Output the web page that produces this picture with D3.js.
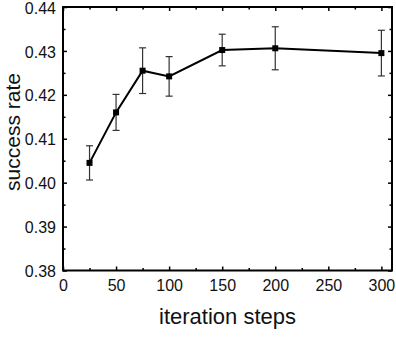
<!DOCTYPE html>
<html>
<head>
<meta charset="utf-8">
<script src="https://cdn.jsdelivr.net/npm/d3@7"></script>
<style>
  body { margin: 0; background: #fff; }
  text { font-family: "Liberation Sans", Arial, sans-serif; }
</style>
</head>
<body>
<div id="chart"></div>
<script>
// data
var steps = [25, 50, 75, 100, 150, 200, 300];
var rate = [0.4045, 0.4160, 0.4255, 0.4242, 0.4302, 0.4306, 0.4295];
var err = [0.0039, 0.0041, 0.0052, 0.0045, 0.0036, 0.0049, 0.0052];
var xTicks = [0, 50, 100, 150, 200, 250, 300];
var yTicks = [0.38, 0.39, 0.40, 0.41, 0.42, 0.43, 0.44];

function init() {

    var w = 396;
    var h = 362;
    var margin = {left: 63, right: 4, top: 7, bottom: 91.5};

    var x = d3.scaleLinear()
              .domain([0, 310])
              .range([margin.left, w - margin.right]);

    var y = d3.scaleLinear()
              .domain([0.38, 0.44])
              .range([h - margin.bottom, margin.top]);

    var svg = d3.select("#chart")
                .append("svg")
                .attr("width", w)
                .attr("height", h);

    var minorX = d3.range(25, 310, 50);
    var minorY = d3.range(0.385, 0.44, 0.01);

    // minor ticks, all four sides
    function minor(axis, vals, pos) {
        svg.append("g")
           .attr("transform", pos)
           .call(axis.tickValues(vals).tickSize(-2.5).tickFormat(""))
           .call(function(g) { g.select(".domain").remove(); })
           .selectAll("line").attr("stroke-width", 1.5);
    }
    minor(d3.axisBottom(x), minorX, "translate(0," + y(0.38) + ")");
    minor(d3.axisTop(x), minorX, "translate(0," + y(0.44) + ")");
    minor(d3.axisLeft(y), minorY, "translate(" + x(0) + ",0)");
    minor(d3.axisRight(y), minorY, "translate(" + x(310) + ",0)");

    // major ticks + labels
    var xAxis = svg.append("g")
                   .attr("transform", "translate(0," + y(0.38) + ")")
                   .call(d3.axisBottom(x).tickValues(xTicks).tickSize(-4).tickPadding(9));
    var yAxis = svg.append("g")
                   .attr("transform", "translate(" + x(0) + ",0)")
                   .call(d3.axisLeft(y).tickValues(yTicks).tickSize(-4).tickPadding(7)
                           .tickFormat(d3.format(".2f")));
    svg.append("g")
       .attr("transform", "translate(0," + y(0.44) + ")")
       .call(d3.axisTop(x).tickValues(xTicks).tickSize(-4).tickFormat(""));
    svg.append("g")
       .attr("transform", "translate(" + x(310) + ",0)")
       .call(d3.axisRight(y).tickValues(yTicks).tickSize(-4).tickFormat(""));

    svg.selectAll(".domain").remove();
    svg.selectAll(".tick line").attr("stroke", "#000").attr("stroke-width", 1.5);
    svg.selectAll(".tick text")
       .attr("fill", "#111")
       .style("font-size", "16px")
       .style("font-family", "'Liberation Sans', Arial, sans-serif");
    yAxis.selectAll(".tick text").attr("dy", "0.38em");

    // frame
    svg.append("rect")
       .attr("x", x(0))
       .attr("y", y(0.44))
       .attr("width", x(310) - x(0))
       .attr("height", y(0.38) - y(0.44))
       .attr("fill", "none")
       .attr("stroke", "#000")
       .attr("stroke-width", 2);

    // error bars
    var bars = svg.selectAll(".err")
                  .data(steps)
                  .enter()
                  .append("g")
                  .attr("class", "err")
                  .attr("stroke", "#333")
                  .attr("stroke-width", 1.2);
    bars.append("line")
        .attr("x1", function(d) { return x(d); })
        .attr("x2", function(d) { return x(d); })
        .attr("y1", function(d, i) { return y(rate[i] - err[i]); })
        .attr("y2", function(d, i) { return y(rate[i] + err[i]); });
    [-1, 1].forEach(function(s) {
        bars.append("line")
            .attr("x1", function(d) { return x(d) - 3.5; })
            .attr("x2", function(d) { return x(d) + 3.5; })
            .attr("y1", function(d, i) { return y(rate[i] + s * err[i]); })
            .attr("y2", function(d, i) { return y(rate[i] + s * err[i]); });
    });

    // line
    var line = d3.line()
                 .x(function(d) { return x(d); })
                 .y(function(d, i) { return y(rate[i]); });

    svg.append("path")
       .datum(steps)
       .attr("d", line)
       .attr("fill", "none")
       .attr("stroke", "#000")
       .attr("stroke-width", 2);

    svg.selectAll(".pt")
       .data(steps)
       .enter()
       .append("rect")
       .attr("class", "pt")
       .attr("x", function(d) { return x(d) - 3; })
       .attr("y", function(d, i) { return y(rate[i]) - 3; })
       .attr("width", 6)
       .attr("height", 6)
       .attr("fill", "#000");

    // axis titles
    svg.append("text")
       .attr("x", (x(0) + x(310)) / 2)
       .attr("y", 324)
       .attr("text-anchor", "middle")
       .style("font-size", "22px")
       .attr("fill", "#111")
       .text("iteration steps");

    svg.append("text")
       .attr("transform", "translate(19.5,132) rotate(-90)")
       .attr("text-anchor", "middle")
       .style("font-size", "21px")
       .attr("fill", "#111")
       .text("success rate");
}

window.onload = init;
</script>
</body>
</html>
